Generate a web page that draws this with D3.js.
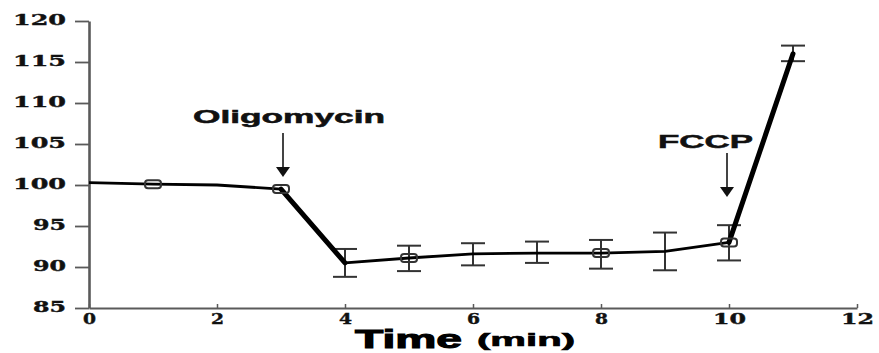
<!DOCTYPE html>
<html>
<head>
<meta charset="utf-8">
<script src="https://cdn.jsdelivr.net/npm/d3@7"></script>
<style>
  html, body { margin: 0; padding: 0; background: #fff; }
  svg { display: block; }
</style>
</head>
<body>
<svg id="chart" width="879" height="353"></svg>
<script>
// ---- data ----
const times = [0, 1, 2, 3, 4, 5, 6, 7, 8, 9, 10, 11];
const means = [100.3, 100.1, 100.0, 99.5, 90.5, 91.1, 91.6, 91.7, 91.7, 91.9, 93.0, 116.0];
const errUpper = [null, null, null, null, 92.2, 92.6, 92.9, 93.1, 93.3, 94.2, 95.1, 117.0];
const errLower = [null, null, null, null, 88.8, 89.5, 90.2, 90.5, 89.8, 89.6, 90.8, 115.1];
const markerTimes = [1, 3, 5, 8, 10];
const thickSegments = [[3, 4], [10, 11]];
const xTicks = [0, 2, 4, 6, 8, 10, 12];
const yTicks = [85, 90, 95, 100, 105, 110, 115, 120];
const annotLabels = ["Oligomycin", "FCCP"];
const annotTimes = [3, 10];
const xTitle = "Time";
const xUnit = "(min)";

// ---- layout ----
const svg = d3.select("#chart");
const x = d3.scaleLinear().domain([0, 12]).range([89, 857]);
const y = d3.scaleLinear().domain([85, 120]).range([308, 21]);
const axisColor = "#5a5a5a";
const serif = "'DejaVu Serif', 'Liberation Serif', serif";
const sans = "'Liberation Sans', Arial, sans-serif";

// y axis
const yAxis = svg.append("g").attr("transform", `translate(${x(0)},0)`)
  .call(d3.axisLeft(y).tickValues(yTicks).tickSizeInner(14).tickSizeOuter(0).tickPadding(9));
yAxis.select(".domain").attr("stroke", axisColor).attr("stroke-width", 2.6);
yAxis.selectAll(".tick line").attr("stroke", axisColor).attr("stroke-width", 1.8);
yAxis.selectAll(".tick text")
  .attr("font-family", serif).attr("font-weight", "bold").attr("font-size", 15)
  .attr("fill", "#111").attr("stroke", "#111").attr("stroke-width", 0.4).attr("dy", "0.2em")
  .attr("textLength", d => String(d).length === 3 ? 53 : 33)
  .attr("lengthAdjust", "spacingAndGlyphs");

// x axis
const xAxis = svg.append("g").attr("transform", `translate(0,${y(85)})`)
  .call(d3.axisBottom(x).tickValues(xTicks).tickSizeInner(-4).tickSizeOuter(0).tickPadding(5));
xAxis.select(".domain").attr("stroke", axisColor).attr("stroke-width", 2);
xAxis.selectAll(".tick line").attr("stroke", axisColor).attr("stroke-width", 1.5);
xAxis.selectAll(".tick text")
  .attr("font-family", serif).attr("font-weight", "bold").attr("font-size", 15)
  .attr("fill", "#111").attr("stroke", "#111").attr("stroke-width", 0.4)
  .attr("textLength", d => String(d).length === 1 ? 13 : 33)
  .attr("lengthAdjust", "spacingAndGlyphs");

// axis title
svg.append("text").attr("x", 355).attr("y", 348)
  .attr("font-family", sans).attr("font-weight", "bold").attr("font-size", 25)
  .attr("textLength", 107).attr("lengthAdjust", "spacingAndGlyphs")
  .attr("fill", "#000").attr("stroke", "#000").attr("stroke-width", 1).text(xTitle);
svg.append("text").attr("x", 477).attr("y", 346)
  .attr("font-family", sans).attr("font-weight", "bold").attr("font-size", 18)
  .attr("textLength", 98).attr("lengthAdjust", "spacingAndGlyphs")
  .attr("fill", "#000").attr("stroke", "#000").attr("stroke-width", 0.6).text(xUnit);

// error bars
const eb = times.map((t, i) => ({t, hi: errUpper[i], lo: errLower[i]})).filter(d => d.hi != null);
const ebG = svg.append("g").attr("stroke", "#333").attr("stroke-width", 2).attr("fill", "none");
ebG.selectAll(".v").data(eb).join("line")
  .attr("x1", d => x(d.t)).attr("x2", d => x(d.t))
  .attr("y1", d => y(d.hi)).attr("y2", d => y(d.lo));
ebG.selectAll(".hi").data(eb).join("line")
  .attr("x1", d => x(d.t) - 12).attr("x2", d => x(d.t) + 12)
  .attr("y1", d => y(d.hi)).attr("y2", d => y(d.hi));
ebG.selectAll(".lo").data(eb).join("line")
  .attr("x1", d => x(d.t) - 12).attr("x2", d => x(d.t) + 12)
  .attr("y1", d => y(d.lo)).attr("y2", d => y(d.lo));

// main line
const pts = times.map((t, i) => ({t, v: means[i]}));
const line = d3.line().x(d => x(d.t)).y(d => y(d.v));
svg.append("path").datum(pts).attr("d", line)
  .attr("fill", "none").attr("stroke", "#000").attr("stroke-width", 2.8)
  .attr("stroke-linejoin", "round");
thickSegments.forEach(([a, b]) => {
  const seg = pts.filter(d => d.t >= a && d.t <= b);
  svg.append("path").datum(seg).attr("d", line)
    .attr("fill", "none").attr("stroke", "#000").attr("stroke-width", 5)
    .attr("stroke-linecap", "round");
});

// markers
const mk = pts.filter(d => markerTimes.includes(d.t));
svg.append("g").selectAll("rect").data(mk).join("rect")
  .attr("x", d => x(d.t) - 8).attr("y", d => y(d.v) - 4)
  .attr("width", 16).attr("height", 8).attr("rx", 3)
  .attr("fill", "none").attr("stroke", "#333").attr("stroke-width", 2);

// annotations
const annotLayout = [
  {tx: 193, ty: 123, tl: 192, ax: 2, y1: 133, y2: 177},
  {tx: 658, ty: 148, tl: 95, ax: -2, y1: 153, y2: 197}
];
annotLabels.forEach((lab, i) => {
  const L = annotLayout[i];
  const ax = x(annotTimes[i]) + L.ax;
  svg.append("text").attr("x", L.tx).attr("y", L.ty)
    .attr("font-family", sans).attr("font-weight", "bold").attr("font-size", 18)
    .attr("textLength", L.tl).attr("lengthAdjust", "spacingAndGlyphs")
    .attr("fill", "#111").attr("stroke", "#111").attr("stroke-width", 0.5).text(lab);
  svg.append("line").attr("x1", ax).attr("x2", ax).attr("y1", L.y1).attr("y2", L.y2 - 8)
    .attr("stroke", "#444").attr("stroke-width", 2);
  svg.append("path")
    .attr("d", `M${ax - 7},${L.y2 - 10} L${ax + 7},${L.y2 - 10} L${ax},${L.y2} Z`)
    .attr("fill", "#111");
});
</script>
</body>
</html>
